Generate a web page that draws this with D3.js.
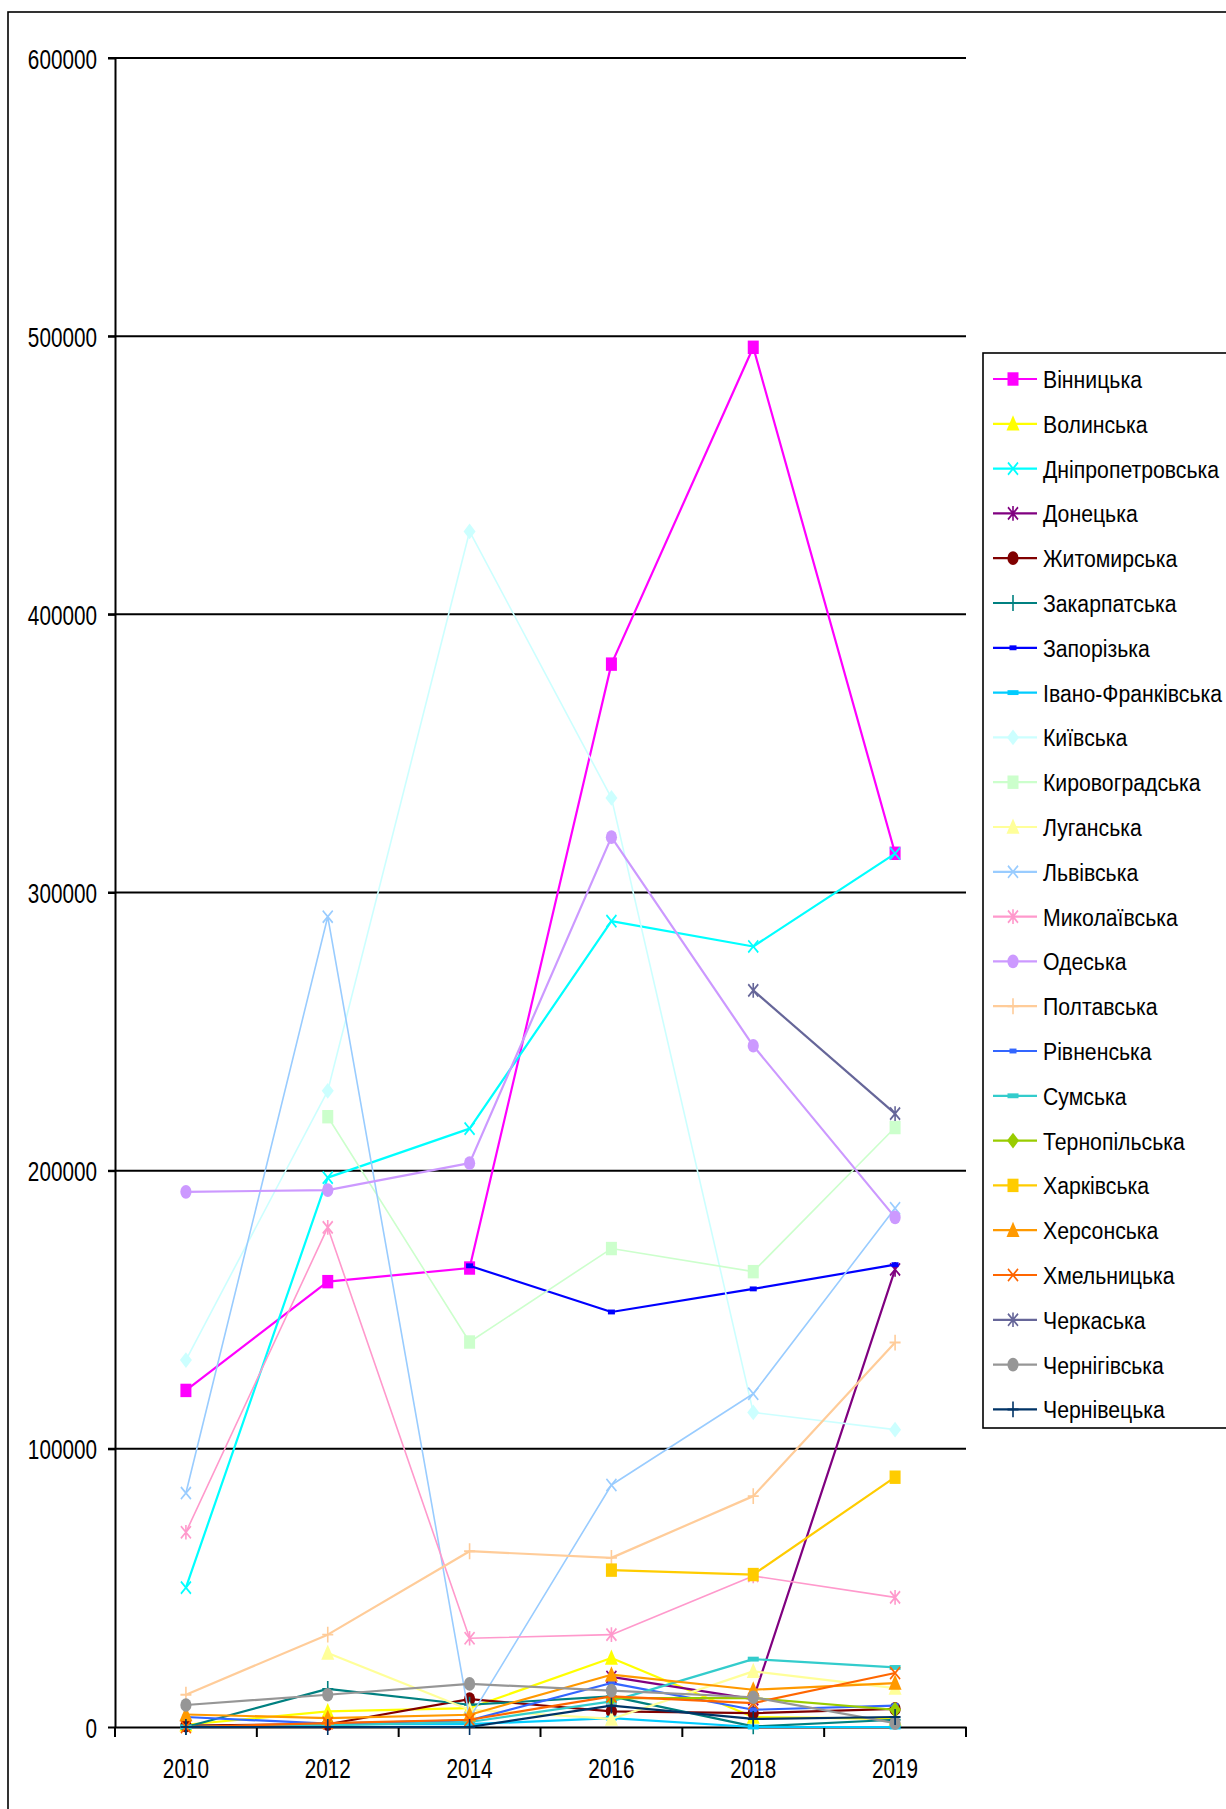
<!DOCTYPE html>
<html><head><meta charset="utf-8">
<script src="https://cdn.jsdelivr.net/npm/d3@7"></script>
<style>body{margin:0;background:#fff}svg{display:block}</style>
</head><body>
<svg id="c" width="1226" height="1809"></svg>
<script>
// ---- data ----
const years = ["2010","2012","2014","2016","2018","2019"];
const yTickValues = [0,100000,200000,300000,400000,500000,600000];
const regionNames = ["Вінницька","Волинська","Дніпропетровська","Донецька","Житомирська","Закарпатська","Запорізька","Івано-Франківська","Київська","Кировоградська","Луганська","Львівська","Миколаївська","Одеська","Полтавська","Рівненська","Сумська","Тернопільська","Харківська","Херсонська","Хмельницька","Черкаська","Чернігівська","Чернівецька"];
const regionColors = ["#ff00ff","#ffff00","#00ffff","#800080","#800000","#008080","#0000ff","#00ccff","#ccffff","#ccffcc","#ffff99","#99ccff","#ff99cc","#cc99ff","#ffcc99","#3366ff","#33cccc","#99cc00","#ffcc00","#ff9900","#ff6600","#666699","#969696","#003366"];
const regionMarkers = ["square","triangle","x","asterisk","circle","plus","shortdash","longdash","diamond","square","triangle","x","asterisk","circle","plus","shortdash","longdash","diamond","square","triangle","x","asterisk","circle","plus"];

const vinnytska  = [121000,160100,165000,382100,496000,314100];
const volynska   = [800,5600,6800,24800,3600,2900];
const dnipro     = [50100,197500,215100,289700,280600,314000];
const donetska   = [null,null,null,18000,10000,164500];
const zhytomyr   = [500,1000,10000,5600,5000,6500];
const zakarpat   = [0,13700,8000,11000,200,2600];
const zaporiz    = [null,null,165800,149200,157500,166200];
const ivano      = [0,1000,1000,3200,0,0];
const kyiv       = [131900,228700,429800,334000,113100,106900];
const kirovohrad = [null,219400,138400,172000,163700,215500];
const luhansk    = [null,26600,6200,2900,20000,14000];
const lviv       = [84100,291300,3200,87000,119800,186500];
const mykolaiv   = [70000,179600,31900,33200,54300,46600];
const odesa      = [192400,193000,202700,319900,244900,183200];
const poltava    = [11600,33200,63200,60800,83000,138200];
const rivne      = [3600,1200,2400,15800,6200,7700];
const sumy       = [0,600,1800,9200,24400,21400];
const ternopil   = [null,null,null,10400,10400,6200];
const kharkiv    = [null,null,null,56400,54800,89800];
const kherson    = [4500,3200,4400,18800,13400,15800];
const khmelnyt   = [0,1400,2600,11000,8600,19400];
const cherkasy   = [null,null,null,null,264800,220500];
const chernihiv  = [7900,11600,15500,13100,10700,1400];
const chernivtsi = [0,0,0,7700,2900,3600];

const seriesValues = [vinnytska,volynska,dnipro,donetska,zhytomyr,zakarpat,zaporiz,ivano,kyiv,kirovohrad,luhansk,lviv,mykolaiv,odesa,poltava,rivne,sumy,ternopil,kharkiv,kherson,khmelnyt,cherkasy,chernihiv,chernivtsi];
const series = regionNames.map((n,i)=>({name:n,color:regionColors[i],marker:regionMarkers[i],values:seriesValues[i]}));

// ---- layout ----
const svg = d3.select("#c");
const FONT = "'Liberation Sans', Arial, sans-serif";
const plotLeft = 115, plotRight = 966, plotTop = 58, plotBottom = 1727;
const x = d3.scaleBand().domain(years).range([plotLeft,plotRight]);
const y = d3.scaleLinear().domain([0,600000]).range([plotBottom,plotTop]);
const cx = d => x(d) + x.bandwidth()/2;
const STRETCH = 1.22;

// outer frame
svg.append("rect").attr("x",8).attr("y",12).attr("width",1260).attr("height",1850)
  .attr("fill","none").attr("stroke","#000").attr("stroke-width",1.6);

// gridlines
svg.append("g").selectAll("line").data(yTickValues.filter(v=>v>0)).join("line")
  .attr("x1",plotLeft-7).attr("x2",plotRight).attr("y1",d=>y(d)).attr("y2",d=>y(d))
  .attr("stroke","#000").attr("stroke-width",2);

// y axis
const yAxis = svg.append("g").attr("transform",`translate(${plotLeft},0)`)
  .call(d3.axisLeft(y).tickValues(yTickValues).tickSize(7).tickSizeOuter(0).tickFormat(d3.format("d")));
yAxis.select(".domain").attr("stroke","#000").attr("stroke-width",2);
yAxis.selectAll(".tick line").attr("stroke","#000").attr("stroke-width",2);
yAxis.selectAll(".tick text").attr("x",null).attr("dy",null)
  .attr("font-family",FONT).attr("font-size",28).attr("fill","#000")
  .attr("text-anchor","end")
  .attr("transform","translate(-18,10) scale(0.74,1)");

// x axis
const xAxis = svg.append("g").attr("transform",`translate(0,${plotBottom})`)
  .call(d3.axisBottom(x).tickSize(0).tickSizeOuter(0).tickPadding(0));
xAxis.select(".domain").attr("stroke","#000").attr("stroke-width",2.2);
xAxis.selectAll(".tick text").attr("y",null).attr("dy",null)
  .attr("font-family",FONT).attr("font-size",28).attr("fill","#000")
  .attr("text-anchor","middle")
  .attr("transform","translate(0,51) scale(0.74,1)");
// boundary ticks
xAxis.append("g").selectAll("line").data(d3.range(years.length+1)).join("line")
  .attr("x1",i=>plotLeft+i*x.step()).attr("x2",i=>plotLeft+i*x.step())
  .attr("y1",0).attr("y2",10).attr("stroke","#000").attr("stroke-width",2);

// markers
function markerNode(g, type, color){
  const m = g.append("g").attr("transform",`scale(1,${STRETCH})`);
  switch(type){
    case "square": m.append("rect").attr("x",-5.5).attr("y",-5.5).attr("width",11).attr("height",11).attr("fill",color); break;
    case "triangle": m.append("path").attr("d","M0,-7L6.5,5.5L-6.5,5.5Z").attr("fill",color); break;
    case "circle": m.append("circle").attr("r",5.6).attr("fill",color); break;
    case "diamond": m.append("path").attr("d","M0,-6.5L6,0L0,6.5L-6,0Z").attr("fill",color); break;
    case "shortdash": m.append("rect").attr("x",-3.5).attr("y",-2).attr("width",7).attr("height",4).attr("fill",color); break;
    case "longdash": m.append("rect").attr("x",-5.5).attr("y",-2).attr("width",11).attr("height",4).attr("fill",color); break;
    case "x": m.append("path").attr("d","M-5,-5L5,5M5,-5L-5,5").attr("stroke",color).attr("stroke-width",1.6).attr("fill","none"); break;
    case "asterisk": m.append("path").attr("d","M-5,-5L5,5M5,-5L-5,5M0,-6L0,6").attr("stroke",color).attr("stroke-width",1.6).attr("fill","none"); break;
    case "plus": m.append("path").attr("d","M-5.5,0L5.5,0M0,-6.5L0,6.5").attr("stroke",color).attr("stroke-width",1.6).attr("fill","none"); break;
  }
  return m;
}

const lightSet = new Set(["#ccffff","#ccffcc","#99ccff","#ff99cc"]);
const line = d3.line().defined(d=>d.v!=null).x(d=>cx(d.year)).y(d=>y(d.v));
const plot = svg.append("g");
series.forEach(s=>{
  const pts = years.map((yr,i)=>({year:yr,v:s.values[i]}));
  const g = plot.append("g");
  g.append("path").attr("d",line(pts)).attr("fill","none").attr("stroke",s.color)
    .attr("stroke-width",lightSet.has(s.color)?1.6:2.2).attr("stroke-linejoin","round");
  pts.filter(p=>p.v!=null).forEach(p=>{
    const mg = g.append("g").attr("transform",`translate(${cx(p.year)},${y(p.v)})`);
    markerNode(mg,s.marker,s.color);
  });
});

// legend
const lgX = 983, lgY = 353, lgStep = 44.8, lgFirst = 379;
svg.append("rect").attr("x",lgX).attr("y",lgY).attr("width",300).attr("height",1428-lgY)
  .attr("fill","#fff").attr("stroke","#000").attr("stroke-width",1.6);
const lg = svg.append("g");
series.forEach((s,i)=>{
  const yy = lgFirst + i*lgStep;
  const e = lg.append("g").attr("transform",`translate(0,${yy})`);
  e.append("line").attr("x1",993).attr("x2",1037).attr("y1",0).attr("y2",0)
    .attr("stroke",s.color).attr("stroke-width",2.2);
  markerNode(e.append("g").attr("transform","translate(1013,0)"),s.marker,s.color);
  e.append("text").text(s.name).attr("font-family",FONT).attr("font-size",24.7).attr("fill","#000")
    .attr("transform","translate(1043,9) scale(0.86,1)");
});
</script>
</body></html>
